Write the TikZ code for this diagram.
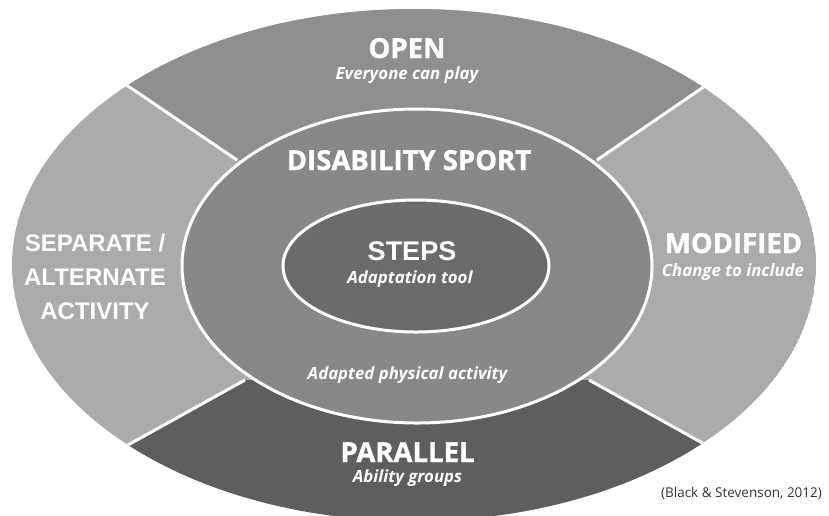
\documentclass[tikz,border=0pt]{standalone}
\usepackage{fontspec}
\setmainfont{Open Sans}[BoldFeatures={FakeBold=1.2}]
\newfontfamily\arialfont{Liberation Sans}
\usetikzlibrary{positioning}
\definecolor{sidegray}{HTML}{ABABAD}
\definecolor{opengray}{HTML}{8F8F91}
\definecolor{ringgray}{HTML}{88888A}
\definecolor{innergray}{HTML}{6B6B6D}
\definecolor{paragray}{HTML}{5E5E60}
\definecolor{citegray}{HTML}{333333}
\tikzset{
  head/.style={text=white, inner sep=0pt, anchor=base, font=\bfseries\fontsize{27.5}{30}\selectfont},
  tag/.style={text=white, inner sep=0pt, anchor=base, font=\bfseries\itshape\fontsize{16.8}{19}\selectfont},
  block/.style={text=white, inner sep=0pt, align=center, font=\arialfont\bfseries\fontsize{24}{34}\selectfont},
  divider/.style={white, line width=3pt},
  rim/.style={draw=white, line width=3pt}
}
\begin{document}
\begin{tikzpicture}[x=1pt,y=-1pt]
\def\outerring{(414,265) ellipse (402 and 256)}
\def\middlering{(417,266) ellipse (235 and 157)}
\def\innerring{(416,266) ellipse (133 and 66)}
\useasboundingbox (0,0) rectangle (829,515);
\fill[white] (0,0) rectangle (829,515);
% outer band, split in four
\begin{scope}
  \clip \outerring;
  \fill[sidegray] \outerring;
  \fill[opengray] (237,160) -- (13,8) -- (13,-20) -- (813,-20) -- (813,12) -- (597,160) -- cycle;
  \fill[paragray] (245,380) -- (110,455) -- (110,540) -- (724,540) -- (724,455) -- (589,380) -- cycle;
  \coordinate (ul) at (237,160); \coordinate (ulo) at (13,8);
  \coordinate (ur) at (597,160); \coordinate (uro) at (813,12);
  \coordinate (ll) at (245,380); \coordinate (llo) at (110,455);
  \coordinate (lr) at (589,380); \coordinate (lro) at (724,455);
  \draw[divider] (ul) -- (ulo);
  \draw[divider] (ur) -- (uro);
  \draw[divider] (ll) -- (llo);
  \draw[divider] (lr) -- (lro);
\end{scope}
\fill[ringgray, rim] \middlering;
\fill[innergray, rim] \innerring;
% labels
\node[head] (open) at (407,58) {OPEN};
\node[tag] (opentag) at (407,79) {Everyone can play};
\node[head] (sport) at (409,170) {DISABILITY SPORT};
\node[head, font=\arialfont\bfseries\fontsize{27}{30}\selectfont] (steps) at (412,260) {STEPS};
\node[tag] (stepstag) at (410,283) {Adaptation tool};
\node[tag] (sporttag) at (407.5,379) {Adapted physical activity};
\node[head] (parallel) at (407.5,462) {PARALLEL};
\node[tag] (paralleltag) at (407.5,482) {Ability groups};
\node[head] (modified) at (733.5,253) {MODIFIED};
\node[tag] (modifiedtag) at (733,276) {Change to include};
\node[block] (separate) at (95,277) {SEPARATE /\\ALTERNATE\\ACTIVITY};
\node[inner sep=0pt, anchor=base, text=citegray, font=\fontsize{13.5}{15}\selectfont] (cite) at (741.5,497) {(Black \& Stevenson, 2012)};
\end{tikzpicture}
\end{document}
